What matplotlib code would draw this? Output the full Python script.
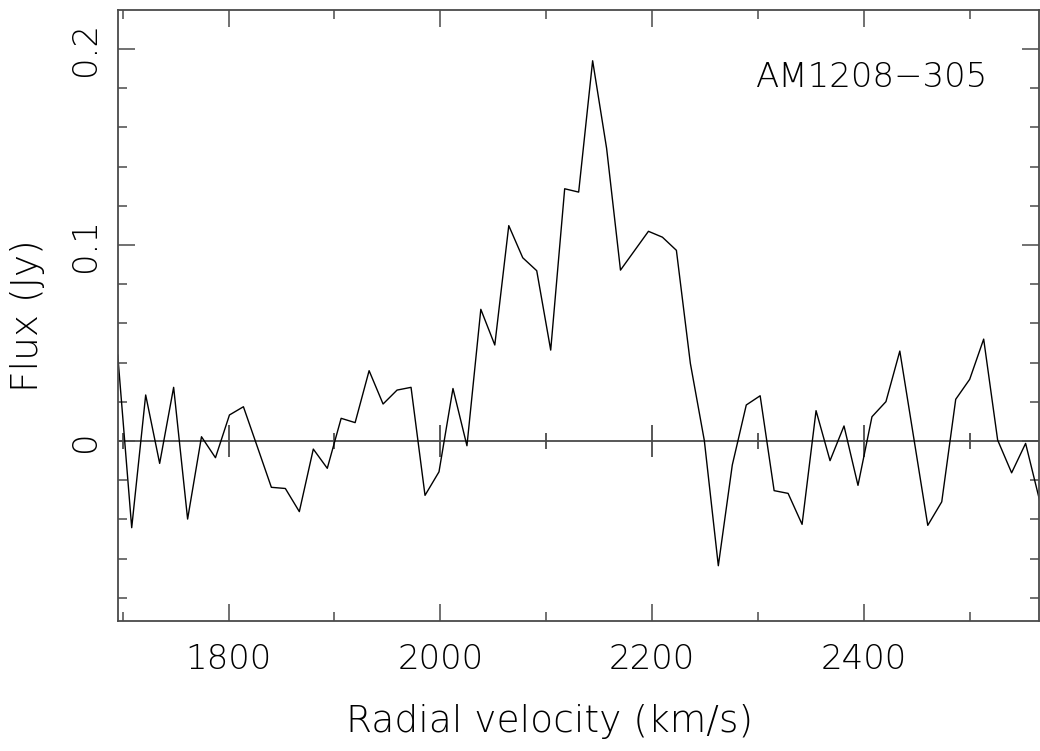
import matplotlib
import numpy as np
import matplotlib.pyplot as plt
from matplotlib.ticker import MultipleLocator

matplotlib.use('Agg')

# channel velocities (km/s) and flux densities (Jy)
velocity = [
    1695.3, 1708.5, 1721.7, 1734.9, 1748.1, 1761.3, 1774.4, 1787.6, 1800.8, 1814.0,
    1827.2, 1840.4, 1853.6, 1866.8, 1880.0, 1893.2, 1906.3, 1919.5, 1932.7, 1945.9,
    1959.1, 1972.3, 1985.5, 1998.7, 2011.9, 2025.1, 2038.2, 2051.4, 2064.6, 2077.8,
    2091.0, 2104.2, 2117.4, 2130.6, 2143.8, 2157.0, 2170.1, 2183.3, 2196.5, 2209.7,
    2222.9, 2236.1, 2249.3, 2262.5, 2275.7, 2288.9, 2302.0, 2315.2, 2328.4, 2341.6,
    2354.8, 2368.0, 2381.2, 2394.4, 2407.6, 2420.8, 2433.9, 2447.1, 2460.3, 2473.5,
    2486.7, 2499.9, 2513.1, 2526.3, 2539.5, 2552.7, 2565.8,
]
flux = [
    0.0439, -0.0442, 0.0235, -0.0114, 0.0274, -0.0398, 0.0022, -0.0085, 0.0133, 0.0175,
    -0.0030, -0.0236, -0.0242, -0.0360, -0.0041, -0.0139, 0.0116, 0.0094, 0.0359, 0.0189,
    0.0260, 0.0274, -0.0277, -0.0157, 0.0268, -0.0024, 0.0672, 0.0490, 0.1099, 0.0935,
    0.0869, 0.0464, 0.1287, 0.1270, 0.1940, 0.1493, 0.0872, 0.0971, 0.1070, 0.1040,
    0.0973, 0.0396, 0.0002, -0.0636, -0.0122, 0.0184, 0.0231, -0.0253, -0.0267, -0.0425,
    0.0155, -0.0100, 0.0077, -0.0226, 0.0124, 0.0201, 0.0459, 0.0015, -0.0430, -0.0310,
    0.0213, 0.0315, 0.0520, 0.0005, -0.0162, -0.0012, -0.0300,
]
galaxy = 'AM1208\u2212305'

plt.rcParams['font.family'] = ['DejaVu Sans']
plt.rcParams['font.weight'] = 'light'
plt.rcParams['axes.labelweight'] = 'light'
axis_col = '#4a4a4a'

fig = plt.figure(figsize=(10.4, 7.51), dpi=100)
ax = fig.add_axes([0.1132, 0.1731, 0.8863, 0.8136])

ax.plot(velocity, flux, color='black', lw=1.0)

# zero line with its own ticks
ax.axhline(0, color=axis_col, lw=1.3, zorder=1)
for v in np.arange(1700, 2600, 100):
    half = 0.0083 if v % 200 == 0 else 0.0043
    ax.vlines(v, -half, half, color=axis_col, lw=1.3, zorder=1)

ax.set_xlim(velocity[0], velocity[-1])
ax.set_ylim(-0.0918, 0.2199)

ax.xaxis.set_major_locator(MultipleLocator(200))
ax.xaxis.set_minor_locator(MultipleLocator(100))
ax.yaxis.set_major_locator(MultipleLocator(0.1))
ax.yaxis.set_minor_locator(MultipleLocator(0.02))
ax.set_yticks([0, 0.1, 0.2])
ax.set_yticklabels(['0', '0.1', '0.2'])

for s in ax.spines.values():
    s.set_color(axis_col)
    s.set_linewidth(1.3)

ax.tick_params(which='both', direction='in', top=True, right=True,
               color=axis_col, width=1.1, labelsize=24.5, labelcolor='black')
ax.tick_params(which='major', length=12.2)
ax.tick_params(which='minor', length=6.5)
ax.tick_params(axis='x', which='major', pad=16)
ax.tick_params(axis='y', which='major', pad=11)
for lab in ax.get_yticklabels():
    lab.set_rotation(90)
    lab.set_va('center')

ax.set_xlabel('Radial velocity (km/s)', fontsize=27, fontweight='light')
ax.xaxis.set_label_coords(0.469, -0.165)
ax.xaxis.label.set_va('center')
ax.set_ylabel('Flux (Jy)', fontsize=27, fontweight='light')
ax.yaxis.set_label_coords(-0.0977, 0.5)
ax.yaxis.label.set_va('center')

ax.text(0.818, 0.889, galaxy, transform=ax.transAxes, fontsize=24.5,
        ha='center', va='center')

fig.savefig('out.png', dpi=100)
